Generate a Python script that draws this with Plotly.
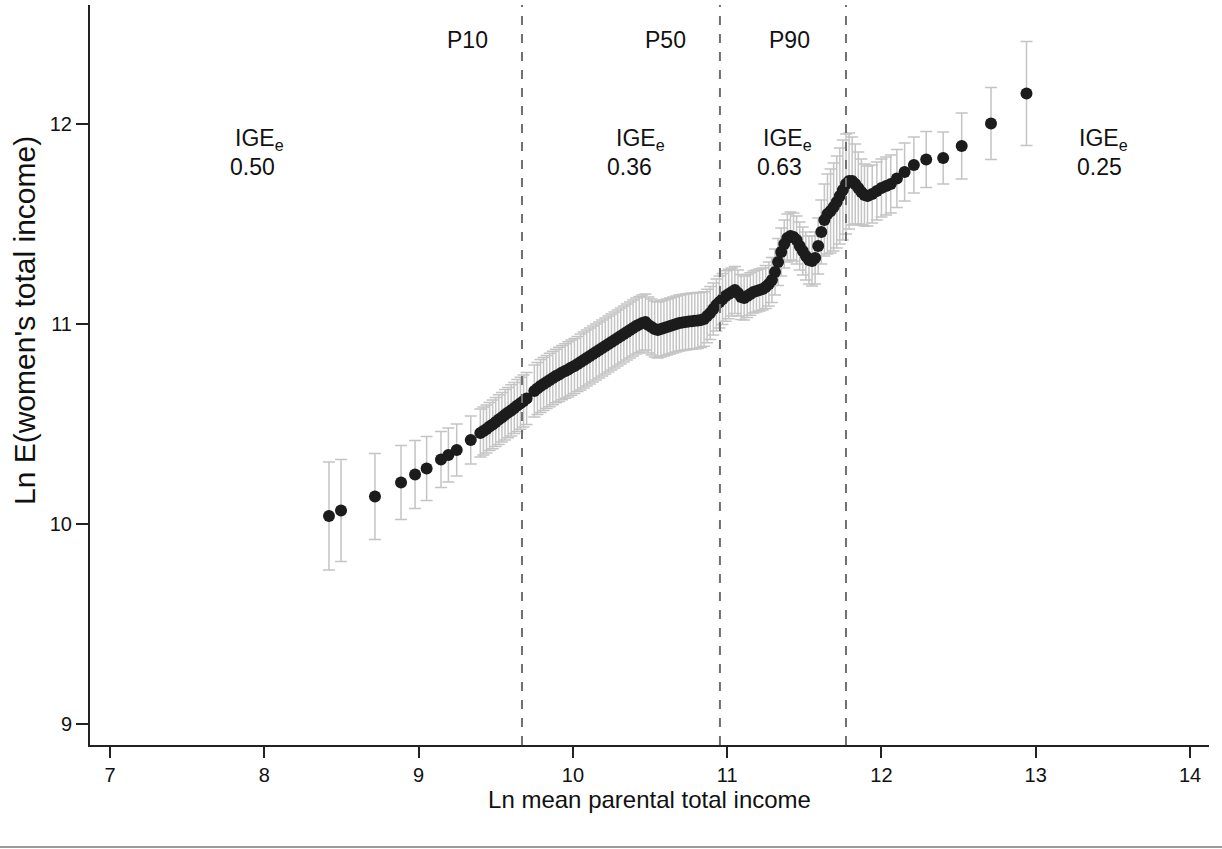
import plotly.graph_objects as go

# ---- data ----
x_vals = [8.419, 8.497, 8.717, 8.886, 8.977, 9.052, 9.145, 9.193, 9.247, 9.338,
          9.40, 9.42, 9.44, 9.46, 9.48, 9.50, 9.52, 9.54, 9.56, 9.58, 9.60, 9.62, 9.64, 9.66, 9.68, 9.70,
          9.75, 9.77, 9.79, 9.81, 9.83, 9.85, 9.87, 9.89, 9.91, 9.93, 9.95, 9.97, 9.99,
          10.01, 10.03, 10.05, 10.07, 10.09, 10.11, 10.13, 10.15, 10.17, 10.19, 10.21, 10.23, 10.25,
          10.27, 10.29, 10.31, 10.33, 10.35, 10.37, 10.39, 10.41, 10.43, 10.45, 10.47, 10.49, 10.51,
          10.53, 10.55, 10.57, 10.59, 10.61, 10.63, 10.65, 10.67, 10.69, 10.71, 10.73, 10.75, 10.77,
          10.79, 10.81, 10.83, 10.85, 10.87, 10.89, 10.91, 10.93, 10.95, 10.97, 10.99, 11.01, 11.03,
          11.05, 11.07, 11.09, 11.11, 11.13, 11.15, 11.17, 11.19, 11.21, 11.23, 11.25, 11.27, 11.29,
          11.31, 11.33, 11.35, 11.37, 11.39, 11.41, 11.43, 11.45, 11.47, 11.49, 11.51, 11.53, 11.55,
          11.57, 11.59, 11.61, 11.63, 11.65, 11.67, 11.69, 11.71, 11.73, 11.75, 11.77, 11.79, 11.81,
          11.83, 11.85, 11.87, 11.89, 11.91, 11.94, 11.97, 12.00, 12.03, 12.06,
          12.10, 12.15, 12.21, 12.29, 12.40, 12.52, 12.71, 12.94]

y_vals = [10.040, 10.067, 10.137, 10.207, 10.247, 10.278, 10.323, 10.345, 10.370, 10.420,
          10.455, 10.465, 10.475, 10.487, 10.498, 10.510, 10.522, 10.534, 10.546, 10.557, 10.568, 10.580, 10.592, 10.604, 10.615, 10.627,
          10.665, 10.677, 10.690, 10.700, 10.710, 10.720, 10.730, 10.740, 10.748, 10.757, 10.765, 10.773, 10.782,
          10.790, 10.800, 10.810, 10.820, 10.830, 10.840, 10.850, 10.860, 10.870, 10.880, 10.890, 10.900, 10.910,
          10.920, 10.930, 10.940, 10.950, 10.960, 10.970, 10.980, 10.990, 10.998, 11.005, 11.010, 10.995, 10.985,
          10.975, 10.970, 10.975, 10.980, 10.985, 10.990, 10.995, 11.000, 11.005, 11.008, 11.010, 11.012, 11.014,
          11.016, 11.018, 11.020, 11.025, 11.040, 11.055, 11.075, 11.095, 11.110, 11.125, 11.140, 11.150, 11.160,
          11.170, 11.155, 11.135, 11.130, 11.140, 11.150, 11.160, 11.165, 11.170, 11.175, 11.185, 11.200, 11.220,
          11.260, 11.310, 11.360, 11.400, 11.430, 11.440, 11.435, 11.420, 11.390, 11.365, 11.340, 11.320, 11.315,
          11.330, 11.390, 11.460, 11.520, 11.550, 11.565, 11.585, 11.610, 11.640, 11.670, 11.700, 11.715, 11.715,
          11.700, 11.680, 11.660, 11.645, 11.640, 11.650, 11.665, 11.680, 11.690, 11.700,
          11.728, 11.760, 11.795, 11.823, 11.830, 11.890, 12.003, 12.153]

err_vals = [0.270, 0.255, 0.215, 0.185, 0.170, 0.160, 0.140, 0.135, 0.130, 0.120,
            0.120, 0.120, 0.120, 0.120, 0.122, 0.122, 0.124, 0.124, 0.126, 0.126, 0.128, 0.128, 0.130, 0.130, 0.130, 0.130,
            0.130, 0.130, 0.132, 0.132, 0.132, 0.134, 0.134, 0.134, 0.136, 0.136, 0.136, 0.138, 0.138,
            0.138, 0.138, 0.140, 0.140, 0.140, 0.140, 0.140, 0.140, 0.140, 0.140, 0.140, 0.140, 0.140,
            0.140, 0.140, 0.140, 0.140, 0.140, 0.140, 0.140, 0.140, 0.140, 0.140, 0.140, 0.140, 0.140,
            0.140, 0.140, 0.140, 0.140, 0.140, 0.140, 0.140, 0.140, 0.140, 0.140, 0.140, 0.140, 0.140,
            0.140, 0.140, 0.138, 0.136, 0.134, 0.132, 0.130, 0.130, 0.130, 0.128, 0.126, 0.124, 0.120,
            0.118, 0.115, 0.112, 0.110, 0.108, 0.106, 0.105, 0.105, 0.105, 0.105, 0.108, 0.110, 0.112,
            0.115, 0.118, 0.120, 0.120, 0.120, 0.120, 0.120, 0.120, 0.120, 0.120, 0.120, 0.120, 0.125,
            0.130, 0.140, 0.160, 0.180, 0.200, 0.210, 0.220, 0.230, 0.240, 0.250, 0.250, 0.240, 0.220,
            0.200, 0.180, 0.165, 0.155, 0.150, 0.145, 0.145, 0.145, 0.145, 0.145,
            0.145, 0.145, 0.140, 0.140, 0.130, 0.165, 0.180, 0.260]

cut_x = [9.67, 10.953, 11.77]
cut_labels = ["P10", "P50", "P90"]
ige_values = ["0.50", "0.36", "0.63", "0.25"]

# ---- layout constants ----
FONT = "Liberation Sans, Arial, sans-serif"
ige_title_x = [7.966, 10.435, 11.39, 13.442]
ige_val_x = [7.92, 10.364, 11.336, 13.41]
cut_label_x = [9.32, 10.603, 11.407]

fig = go.Figure()
fig.add_trace(go.Scatter(
    x=x_vals, y=y_vals, mode="markers",
    marker=dict(color="#1c1c1c", size=12, line=dict(width=0)),
    error_y=dict(type="data", array=err_vals, visible=True,
                 color="#c4c4c4", thickness=1.5, width=6),
    showlegend=False, hoverinfo="x+y"))

shapes = []
for cx in cut_x:
    shapes.append(dict(type="line", xref="x", yref="paper", x0=cx, x1=cx, y0=0, y1=1,
                       line=dict(color="#707070", width=2, dash="dash")))
# bottom rule across the image
shapes.append(dict(type="line", xref="paper", yref="paper",
                   x0=-90 / 1119, x1=1132 / 1119, y0=-102 / 740, y1=-102 / 740,
                   line=dict(color="#9a9a9a", width=2)))

annotations = []
for lab, lx in zip(cut_labels, cut_label_x):
    annotations.append(dict(x=lx, y=12.42, xref="x", yref="y", text=lab, showarrow=False,
                            font=dict(family=FONT, size=23, color="#111")))
for v, tx, vx in zip(ige_values, ige_title_x, ige_val_x):
    annotations.append(dict(x=tx, y=11.925, xref="x", yref="y", text="IGE<sub>e</sub>",
                            showarrow=False, font=dict(family=FONT, size=23, color="#111")))
    annotations.append(dict(x=vx, y=11.785, xref="x", yref="y", text=v,
                            showarrow=False, font=dict(family=FONT, size=23, color="#111")))
annotations.append(dict(x=-66 / 1119, y=(745 - 321) / 740, xref="paper", yref="paper",
                        text="Ln E(women's total income)", textangle=-90, showarrow=False,
                        xanchor="center", yanchor="middle",
                        font=dict(family=FONT, size=30, color="#111")))

fig.update_layout(
    width=1222, height=849,
    margin=dict(l=90, r=13, t=5, b=104),
    paper_bgcolor="white", plot_bgcolor="white",
    font=dict(family=FONT, color="#111"),
    shapes=shapes, annotations=annotations,
    xaxis=dict(range=[6.870, 14.123], tickvals=[7, 8, 9, 10, 11, 12, 13, 14],
               showgrid=False, zeroline=False, showline=True, linecolor="#222", linewidth=2,
               ticks="outside", ticklen=11, tickwidth=2, tickcolor="#222",
               tickfont=dict(family=FONT, size=20, color="#111"),
               title=dict(text="Ln mean parental total income", standoff=2,
                          font=dict(family=FONT, size=24, color="#111"))),
    yaxis=dict(range=[8.895, 12.595], tickvals=[9, 10, 11, 12],
               showgrid=False, zeroline=False, showline=True, linecolor="#222", linewidth=2,
               ticks="outside", ticklen=12, tickwidth=2, tickcolor="#222",
               tickfont=dict(family=FONT, size=20, color="#111")),
)

fig.write_html("out.html", config={"displayModeBar": False},
               post_script="document.body.style.margin='0';document.body.style.padding='0';")
